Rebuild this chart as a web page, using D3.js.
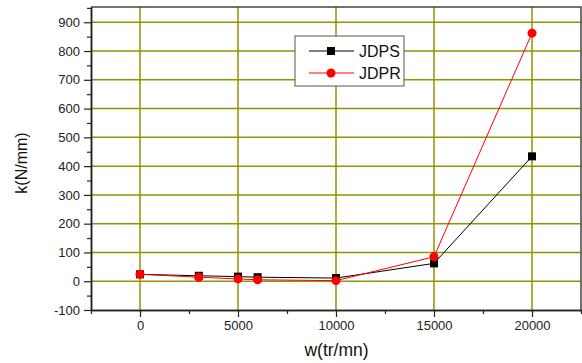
<!DOCTYPE html>
<html>
<head>
<meta charset="utf-8">
<script src="https://cdn.jsdelivr.net/npm/d3@7"></script>
<style>
  body { margin: 0; background: #fff; }
  svg { font-family: "Liberation Sans", Arial, sans-serif; }
</style>
</head>
<body>
<svg id="chart" width="582" height="363"></svg>
<script>
// speeds (tr/mn) and stiffness values (N/mm)
const speeds = [0, 3000, 5000, 6000, 10000, 15000, 20000];
const jdps = [24, 19, 16, 14, 11, 62, 434];
const jdpr = [24, 14, 8, 5, 2, 85, 862];
const xTicks = [0, 5000, 10000, 15000, 20000];
const yTicks = [-100, 0, 100, 200, 300, 400, 500, 600, 700, 800, 900];

const width = 582, height = 363;
const margin = { left: 91, right: 1, top: 7, bottom: 53 };
const gridColor = '#939300';

const svg = d3.select('#chart');

const x = d3.scaleLinear()
  .domain([-2500, 22500])
  .range([margin.left, width - margin.right]);
const y = d3.scaleLinear()
  .domain([-100, 953])
  .range([height - margin.bottom, margin.top]);

// grid
const grid = svg.append('g');
grid.selectAll('line.h')
  .data(yTicks.filter(d => d > -100))
  .join('line')
  .attr('x1', x.range()[0]).attr('x2', x.range()[1])
  .attr('y1', d => y(d)).attr('y2', d => y(d))
  .attr('stroke', gridColor).attr('stroke-width', 1.5);
grid.selectAll('line.v')
  .data(xTicks)
  .join('line')
  .attr('x1', d => x(d)).attr('x2', d => x(d))
  .attr('y1', y.range()[0]).attr('y2', y.range()[1])
  .attr('stroke', gridColor).attr('stroke-width', 1.5);

// frame top/right
svg.append('path')
  .attr('d', `M${x.range()[0]},${y.range()[1]}H${x.range()[1]}V${y.range()[0]}`)
  .attr('fill', 'none').attr('stroke', '#444').attr('stroke-width', 1.5);

// axes (plain hyphen minus, no thousands separator, like the original)
const fmt = d => String(d);
svg.append('g')
  .attr('transform', `translate(0,${y.range()[0]})`)
  .call(d3.axisBottom(x).tickValues(xTicks).tickFormat(fmt).tickSize(7).tickPadding(4).tickSizeOuter(0));
svg.append('g')
  .attr('transform', `translate(0,${y.range()[0]})`)
  .call(d3.axisBottom(x).tickValues(d3.range(-2500, 22501, 5000)).tickSize(4).tickFormat('').tickSizeOuter(0));

svg.append('g')
  .attr('transform', `translate(${x.range()[0]},0)`)
  .call(d3.axisLeft(y).tickValues(yTicks).tickFormat(fmt).tickSize(7).tickPadding(4).tickSizeOuter(0));
svg.append('g')
  .attr('transform', `translate(${x.range()[0]},0)`)
  .call(d3.axisLeft(y).tickValues(d3.range(-50, 951, 100)).tickSize(4).tickFormat('').tickSizeOuter(0));

svg.selectAll('.domain').attr('stroke', '#222').attr('stroke-width', 1.5);
svg.selectAll('.tick line').attr('stroke', '#222').attr('stroke-width', 1.2);
svg.selectAll('.tick text').attr('font-size', 13).attr('fill', '#222')
  .attr('font-family', '"Liberation Sans", Arial, sans-serif');

// axis titles
svg.append('text')
  .attr('x', 336.5).attr('y', 356)
  .attr('text-anchor', 'middle').attr('font-size', 17.5).attr('fill', '#111')
  .text('w(tr/mn)');
svg.append('text')
  .attr('transform', `translate(27,163) rotate(-90)`)
  .attr('text-anchor', 'middle').attr('font-size', 16).attr('fill', '#111')
  .text('k(N/mm)');

// series
const pts = vals => speeds.map((s, i) => [s, vals[i]]);
const line = d3.line().x(d => x(d[0])).y(d => y(d[1]));

svg.append('path').datum(pts(jdps))
  .attr('d', line).attr('fill', 'none').attr('stroke', '#000').attr('stroke-width', 1);
svg.selectAll('rect.jdps').data(pts(jdps)).join('rect')
  .attr('x', d => x(d[0]) - 4).attr('y', d => y(d[1]) - 4)
  .attr('width', 8).attr('height', 8).attr('fill', '#000');

svg.append('path').datum(pts(jdpr))
  .attr('d', line).attr('fill', 'none').attr('stroke', '#ff0000').attr('stroke-width', 1);
svg.selectAll('circle.jdpr').data(pts(jdpr)).join('circle')
  .attr('cx', d => x(d[0])).attr('cy', d => y(d[1]))
  .attr('r', 4.5).attr('fill', '#ff0000');

// legend
const legend = svg.append('g').attr('transform', 'translate(295,36)');
legend.append('rect')
  .attr('width', 109).attr('height', 50)
  .attr('fill', '#fff').attr('stroke', '#555').attr('stroke-width', 1);
const entries = [
  { name: 'JDPS', color: '#000', shape: 'square' },
  { name: 'JDPR', color: '#ff0000', shape: 'circle' }
];
entries.forEach((e, i) => {
  const g = legend.append('g').attr('transform', `translate(0,${15 + i * 22})`);
  g.append('line').attr('x1', 14).attr('x2', 59)
    .attr('stroke', e.color).attr('stroke-width', 1);
  if (e.shape === 'square') {
    g.append('rect').attr('x', 32).attr('y', -4).attr('width', 8).attr('height', 8).attr('fill', e.color);
  } else {
    g.append('circle').attr('cx', 36).attr('r', 4.5).attr('fill', e.color);
  }
  g.append('text').attr('x', 64).attr('y', 6)
    .attr('font-size', 16).attr('fill', '#111').text(e.name);
});
</script>
</body>
</html>
